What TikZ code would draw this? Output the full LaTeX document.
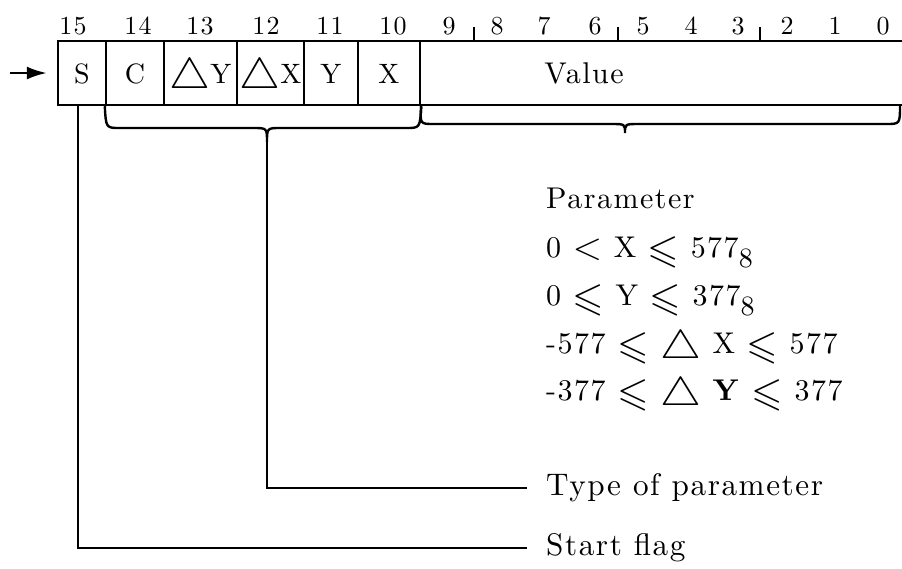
\documentclass[tikz,border=0pt]{standalone}
\usepackage{amssymb}
\usepackage{fontspec}
\setmainfont{lmroman10}[Extension=.otf, UprightFont=*-regular, BoldFont=*-bold, LetterSpace=5]
\usetikzlibrary{arrows.meta}

\newcommand{\tri}[1]{\raisebox{-2.5pt}{\scalebox{1.6}[#1]{$\bigtriangleup$}}}
\newcommand{\lesl}{\raisebox{-2.5pt}{\scalebox{1.35}{$\leqslant$}}}
\newcommand{\lessth}{\raisebox{-1pt}{\scalebox{1.35}{$<$}}}
\newcommand{\octal}[1]{#1\raisebox{-5pt}{\fontsize{14}{16}\selectfont 8}}

\begin{document}
\begin{tikzpicture}[x=0.5pt,y=-0.5pt,line width=1.2pt,
        cell/.style={draw,inner sep=0pt,minimum height=32pt,text height=10pt,text depth=0pt,font=\fontsize{14}{16}\selectfont},
        bit/.style={inner sep=0pt,font=\fontsize{13}{15}\selectfont},
        param/.style={anchor=base west,inner sep=0pt,font=\fontsize{15}{18}\selectfont},
        lbl/.style={anchor=west,inner xsep=9pt,font=\fontsize{15.6}{18}\selectfont}]
    \useasboundingbox (0,0) rectangle (902,569);
    % bit numbers
    \foreach \b/\x in {15/73,14/138,13/200,12/266,11/330,10/393,9/449,8/497,7/544,6/595,5/643,4/691,3/738,2/787,1/835,0/883}
        \node[bit] (b\b) at (\x,26) {\b};
    \foreach \x in {474,618,760}
        \draw (\x,27) -- (\x,41);
    % the word
    \node[cell,minimum width=24pt]   (S)     at (82,73)    {S};
    \node[cell,minimum width=29pt]   (C)     at (135,73)   {C};
    \node[cell,minimum width=36.5pt] (dY)    at (200.5,73) {\tri{1.5}Y};
    \node[cell,minimum width=33.5pt] (dX)    at (270.5,73) {\tri{1.5}X};
    \node[cell,minimum width=27pt]   (Y)     at (331,73)   {Y};
    \node[cell,minimum width=31pt]   (X)     at (389,73)   {X};
    \node[cell,minimum width=246pt]  (value) at (666,73)   {};
    \node[cell,draw=none,font=\fontsize{15}{17}\selectfont] (valtxt) at (584,73) {Value};
    \coordinate (in) at (10,73);
    \draw[-{Latex[length=10pt,width=6.5pt]},shorten >=5pt] (in) -- (S.west);
    % braces
    \draw (C.south west) .. controls (106,128) .. (120,128) -- (253,128)
        .. controls (267,128) .. (267,142) .. controls (267,128) .. (281,128)
        -- (406,128) .. controls (420,128) .. (X.south east);
    \draw (X.south east) .. controls (420,124) .. (434,124) -- (611,124)
        .. controls (625,124) .. (625,133) .. controls (625,124) .. (639,124)
        -- (886,124) .. controls (900,124) .. (900,105);
    \coordinate (tip1) at (267,142);
    % parameter ranges
    \node[param] (par) at (545,208) {Parameter};
    \node[param] (rx)  at (545,257) {0 \lessth\ X \lesl\ \octal{577}};
    \node[param] (ry)  at (545,305) {0 \lesl\ Y \lesl\ \octal{377}};
    \node[param] (rdx) at (545,353) {-577 \lesl\ \tri{1.4}\ X \lesl\ 577};
    \node[param] (rdy) at (545,400) {-377 \lesl\ \tri{1.4}\ \textbf{Y} \lesl\ 377};
    % leaders
    \node[lbl] (type)  at (527,488) {Type of parameter};
    \node[lbl] (start) at (527,548) {Start flag};
    \draw (tip1) |- (type.west);
    \draw ([xshift=-2pt]S.south) |- (start.west);
\end{tikzpicture}
\end{document}
